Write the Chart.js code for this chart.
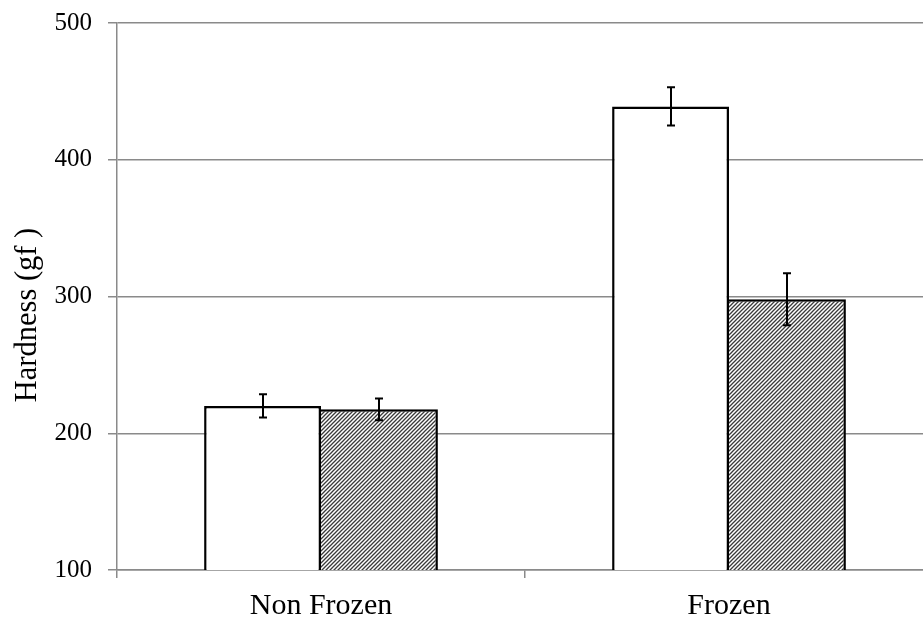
<!DOCTYPE html>
<html>
<head>
<meta charset="utf-8">
<script src="https://cdn.jsdelivr.net/npm/chart.js@4/dist/chart.umd.min.js"></script>
<style>
  html, body { margin: 0; padding: 0; background: #fff; overflow: hidden; }
  #wrap { width: 923px; height: 619px; overflow: hidden; }
</style>
</head>
<body>
<div id="wrap"><canvas id="c" width="933" height="619"></canvas></div>
<script>
// Hardness of samples, non-frozen vs frozen
const categories = ['Non Frozen', 'Frozen'];
const plainValues = [220, 439];
const plainErrors = [8.5, 14];
const hatchedValues = [217.5, 298];
const hatchedErrors = [8, 19];
const yTicks = [100, 200, 300, 400, 500];
const yTitle = 'Hardness (gf )';

const serif = "'Liberation Serif', 'Times New Roman', serif";

// diagonal "/" hatch fill
function makeHatch() {
  const s = 4;
  const p = document.createElement('canvas');
  p.width = s; p.height = s;
  const g = p.getContext('2d');
  g.fillStyle = '#ffffff';
  g.fillRect(0, 0, s, s);
  g.strokeStyle = '#3a3a3a';
  g.lineWidth = 1.3;
  g.beginPath();
  g.moveTo(0, s); g.lineTo(s, 0);
  g.moveTo(-1, 1); g.lineTo(1, -1);
  g.moveTo(s - 1, s + 1); g.lineTo(s + 1, s - 1);
  g.stroke();
  return document.getElementById('c').getContext('2d').createPattern(p, 'repeat');
}

const errorBars = {
  id: 'errorBars',
  afterDatasetsDraw(chart) {
    const ctx = chart.ctx;
    const y = chart.scales.y;
    ctx.save();
    ctx.strokeStyle = '#000';
    ctx.lineWidth = 2;
    chart.data.datasets.forEach((ds, i) => {
      const meta = chart.getDatasetMeta(i);
      meta.data.forEach((bar, j) => {
        const v = ds.data[j], e = ds.errors[j];
        const yt = y.getPixelForValue(v + e);
        const yb = y.getPixelForValue(v - e);
        const x = Math.round(bar.x);
        ctx.beginPath();
        ctx.moveTo(x, yt); ctx.lineTo(x, yb);
        ctx.moveTo(x - 4, yt); ctx.lineTo(x + 4, yt);
        ctx.moveTo(x - 4, yb); ctx.lineTo(x + 4, yb);
        ctx.stroke();
      });
    });
    ctx.restore();
  }
};

// vertical axis title, placed a little below the plot's middle
const axisTitle = {
  id: 'axisTitle',
  afterDraw(chart) {
    const ctx = chart.ctx;
    ctx.save();
    ctx.translate(28, 315);
    ctx.rotate(-Math.PI / 2);
    ctx.font = '30.5px ' + serif;
    ctx.fillStyle = '#000';
    ctx.textAlign = 'center';
    ctx.textBaseline = 'middle';
    ctx.fillText(yTitle, 0, 0);
    ctx.restore();
  }
};

new Chart(document.getElementById('c'), {
  type: 'bar',
  data: {
    labels: categories,
    datasets: [
      {
        data: plainValues,
        errors: plainErrors,
        backgroundColor: '#ffffff',
        borderColor: '#000000',
        borderWidth: { top: 2.5, left: 2.5, right: 2.5, bottom: 0 },
        categoryPercentage: 0.573,
        barPercentage: 1.0
      },
      {
        data: hatchedValues,
        errors: hatchedErrors,
        backgroundColor: makeHatch(),
        borderColor: '#000000',
        borderWidth: { top: 2.5, left: 0, right: 2.5, bottom: 0 },
        categoryPercentage: 0.573,
        barPercentage: 1.0
      }
    ]
  },
  options: {
    responsive: false,
    animation: false,
    layout: { padding: { top: 23, left: 0, right: 0, bottom: 0 } },
    plugins: { legend: { display: false }, tooltip: { enabled: false } },
    scales: {
      x: {
        offset: true,
        grid: { offset: true, drawOnChartArea: false, drawTicks: true, tickLength: 8, color: '#8a8a8a', lineWidth: 1.5 },
        border: { color: '#8a8a8a', width: 1.5 },
        ticks: { color: '#000', font: { family: serif, size: 30 }, padding: 10 },
        afterFit(s) { s.height = 49; s.paddingLeft = 0; s.paddingRight = 0; }
      },
      y: {
        min: 100,
        max: 500,
        afterBuildTicks(s) { s.ticks = yTicks.map(v => ({ value: v })); },
        grid: { color: '#8a8a8a', lineWidth: 1.5, tickLength: 9 },
        border: { color: '#8a8a8a', width: 1.5 },
        ticks: { color: '#000', font: { family: serif, size: 25 }, padding: 16 },
        afterFit(s) { s.width = 117; s.paddingTop = 0; s.paddingBottom = 0; }
      }
    }
  },
  plugins: [errorBars, axisTitle]
});
</script>
</body>
</html>
